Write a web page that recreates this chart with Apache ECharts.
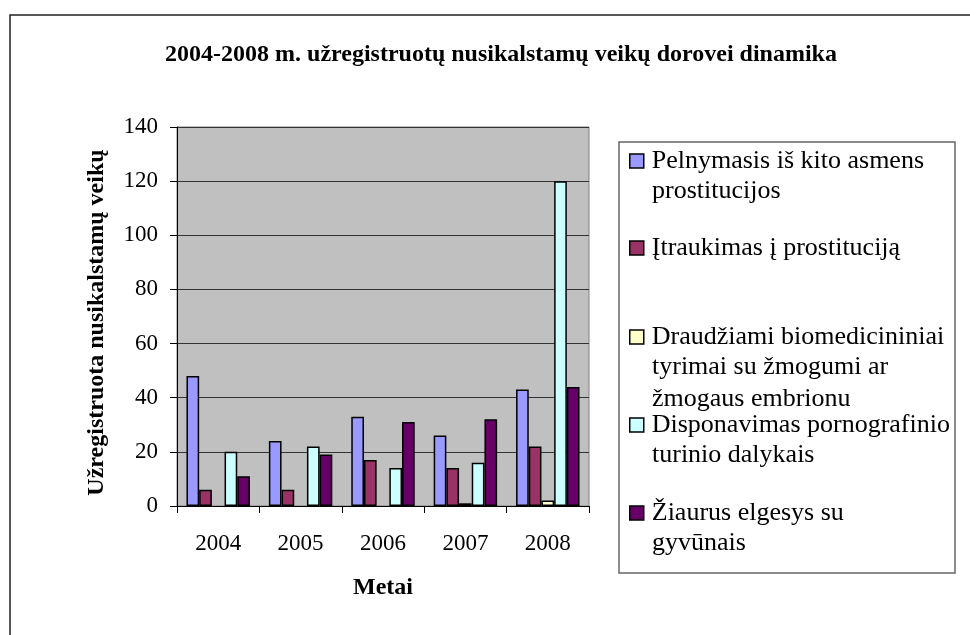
<!DOCTYPE html>
<html>
<head>
<meta charset="utf-8">
<script src="https://cdn.jsdelivr.net/npm/echarts@6/dist/echarts.min.js"></script>
<style>html,body{margin:0;padding:0;background:#fff}#c{width:970px;height:635px}</style>
</head>
<body>
<div id="c"></div>
<script>
const categories = ['2004', '2005', '2006', '2007', '2008'];
const seriesNames = [
  'Pelnymasis iš kito asmens prostitucijos',
  'Įtraukimas į prostituciją',
  'Draudžiami biomedicininiai tyrimai su žmogumi ar žmogaus embrionu',
  'Disponavimas pornografinio turinio dalykais',
  'Žiaurus elgesys su gyvūnais'
];
const legendLines = [
  ['Pelnymasis iš kito asmens', 'prostitucijos'],
  ['Įtraukimas į prostituciją'],
  ['Draudžiami biomedicininiai', 'tyrimai su žmogumi ar', 'žmogaus embrionu'],
  ['Disponavimas pornografinio', 'turinio dalykais'],
  ['Žiaurus elgesys su', 'gyvūnais']
];
const pelnymasis = [48, 24, 33, 26, 43];
const itraukimas = [6, 6, 17, 14, 22];
const draudziami = [null, null, null, 1, 2];
const disponavimas = [20, 22, 14, 16, 120];
const ziaurus = [11, 19, 31, 32, 44];
const yTicks = [0, 20, 40, 60, 80, 100, 120, 140];
const colors = ['#9999FF', '#993366', '#FFFFCC', '#CCFFFF', '#660066'];
const values = [pelnymasis, itraukimas, draudziami, disponavimas, ziaurus];

const FONT = '"Liberation Serif", "Times New Roman", serif';
const legendY = [161, 248, 337, 425, 513];
const lineH = 32;
const LFS = 26;

const chart = echarts.init(document.getElementById('c'));
const legends = seriesNames.map((n, i) => ({
  left: 629, top: legendY[i] - 19, orient: 'vertical', padding: 0,
  data: [n], itemWidth: 14, itemHeight: 14, itemGap: 0,
  icon: 'rect', selectedMode: false,
  formatter: () => legendLines[i][0],
  textStyle: { fontFamily: FONT, fontSize: LFS, color: '#000', lineHeight: 32, padding: [0, 0, 6, 3] },
  itemStyle: { borderColor: '#000', borderWidth: 1.5 }
}));
const extraText = [];
legendLines.forEach((lines, i) => {
  lines.slice(1).forEach((t, k) => {
    extraText.push({
      type: 'text', left: 652, top: legendY[i] + 17 + k * lineH,
      style: { text: t, font: LFS + 'px ' + FONT, fill: '#000' }
    });
  });
});

chart.setOption({
  animation: false,
  title: {
    text: '2004-2008 m. užregistruotų nusikalstamų veikų dorovei dinamika',
    left: 496, top: 38, textAlign: 'center',
    textStyle: { fontFamily: FONT, fontSize: 24, fontWeight: 'bold', color: '#000' }
  },
  legend: legends,
  grid: { left: 177, top: 127, right: 381, bottom: 129, show: true, backgroundColor: '#C0C0C0', borderColor: '#808080', borderWidth: 1 },
  xAxis: {
    type: 'category', data: categories,
    name: 'Metai', nameLocation: 'middle', nameGap: 70,
    nameTextStyle: { fontFamily: FONT, fontSize: 24, fontWeight: 'bold', color: '#000' },
    axisLine: { lineStyle: { color: '#000', width: 1 } },
    axisTick: { show: true, length: 7, alignWithLabel: false, lineStyle: { color: '#000' } },
    axisLabel: { fontFamily: FONT, fontSize: 23, color: '#000', margin: 26 }
  },
  yAxis: {
    type: 'value', min: 0, max: 140, interval: 20,
    name: 'Užregistruota nusikalstamų veikų', nameLocation: 'middle', nameGap: 68, nameRotate: 90,
    nameTextStyle: { fontFamily: FONT, fontSize: 24, fontWeight: 'bold', color: '#000', padding: [0, 12, 0, 0] },
    axisLine: { show: true, lineStyle: { color: '#000', width: 1 } },
    axisTick: { show: true, length: 7, lineStyle: { color: '#000' } },
    axisLabel: { fontFamily: FONT, fontSize: 23, color: '#000', margin: 19,
      formatter: v => yTicks.includes(v) ? String(v) : '' },
    splitLine: { show: true, lineStyle: { color: '#333', width: 1 } }
  },
  series: seriesNames.map((n, i) => ({
    name: n, type: 'bar', data: values[i],
    barGap: '0%', barCategoryGap: '23%',
    itemStyle: { color: colors[i], borderColor: '#000', borderWidth: 1.5 }
  })),
  graphic: [
    { type: 'rect', shape: { x: 10, y: 15, width: 1000, height: 700 }, style: { fill: 'none', stroke: '#222', lineWidth: 1.5 }, silent: true, z: -1 },
    { type: 'rect', shape: { x: 619, y: 142, width: 336, height: 431 }, style: { fill: 'none', stroke: '#666', lineWidth: 1.5 }, silent: true },
    ...extraText
  ]
});
</script>
</body>
</html>
